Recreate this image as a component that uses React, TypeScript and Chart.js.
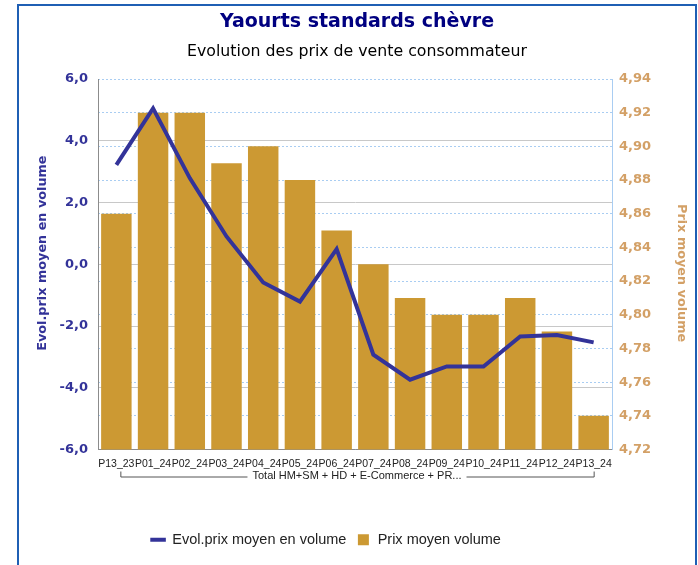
import { useEffect, useRef } from 'react';
import { Chart, registerables } from 'chart.js';

Chart.register(...registerables);

const categories = ['P13_23', 'P01_24', 'P02_24', 'P03_24', 'P04_24', 'P05_24', 'P06_24', 'P07_24', 'P08_24', 'P09_24', 'P10_24', 'P11_24', 'P12_24', 'P13_24'];
const evolPrixMoyen = [3.22, 5.05, 2.79, 0.9, -0.59, -1.21, 0.49, -2.93, -3.74, -3.31, -3.31, -2.34, -2.29, -2.53];
const prixMoyenVolume = [4.86, 4.92, 4.92, 4.89, 4.9, 4.88, 4.85, 4.83, 4.81, 4.8, 4.8, 4.81, 4.79, 4.74];
const groupLabel = 'Total HM+SM + HD + E-Commerce + PR...';

const FONT = '"Liberation Sans", Arial, sans-serif';
const DV = '"DejaVu Sans", Verdana, sans-serif';
const NAVY = '#000080';
const BLUE = '#333399';
const GOLD = '#cc9933';
const TAN = '#d3a066';

const bracketPlugin = {
  id: 'groupBracket',
  afterDraw(chart: any) {
    const xs = chart.scales.x;
    const ctx = chart.ctx;
    const x0 = xs.getPixelForValue(0) + 4;
    const x1 = xs.getPixelForValue(categories.length - 1);
    const y = xs.top + 27;
    ctx.save();
    ctx.font = `11px ${FONT}`;
    const tw = ctx.measureText(groupLabel).width;
    const cx = (x0 + x1) / 2;
    ctx.strokeStyle = '#555555';
    ctx.lineWidth = 1;
    ctx.beginPath();
    ctx.moveTo(x0 + 0.5, y - 5);
    ctx.lineTo(x0 + 0.5, y + 0.5);
    ctx.lineTo(cx - tw / 2 - 5, y + 0.5);
    ctx.moveTo(cx + tw / 2 + 5, y + 0.5);
    ctx.lineTo(x1 + 0.5, y + 0.5);
    ctx.lineTo(x1 + 0.5, y - 5);
    ctx.stroke();
    ctx.fillStyle = '#222222';
    ctx.textAlign = 'center';
    ctx.textBaseline = 'middle';
    ctx.fillText(groupLabel, cx, y - 1);
    ctx.restore();
  },
};

const legendShiftPlugin = {
  id: 'legendShift',
  afterLayout(chart: any) {
    if (chart.legend) {
      chart.legend.left -= 31;
      chart.legend.right -= 31;
    }
  },
};

export default function App() {
  const ref = useRef<HTMLCanvasElement | null>(null);

  useEffect(() => {
    if (!ref.current) return;
    const chart = new Chart(ref.current, {
      type: 'bar',
      data: {
        labels: categories,
        datasets: [
          {
            type: 'line',
            label: 'Evol.prix moyen en volume',
            data: evolPrixMoyen,
            yAxisID: 'y',
            borderColor: BLUE,
            backgroundColor: BLUE,
            borderWidth: 4,
            pointRadius: 0,
            pointStyle: 'line',
            tension: 0,
            order: 0,
          } as any,
          {
            type: 'bar',
            label: 'Prix moyen volume',
            data: prixMoyenVolume,
            yAxisID: 'y1',
            backgroundColor: GOLD,
            borderColor: GOLD,
            borderWidth: 0,
            pointStyle: 'rect',
            barPercentage: 0.83,
            categoryPercentage: 1,
            order: 1,
          } as any,
        ],
      },
      options: {
        animation: false,
        responsive: false,
        layout: { padding: { left: 16, right: 0, top: 0, bottom: 8 } },
        plugins: {
          title: {
            display: true,
            text: 'Yaourts standards chèvre',
            color: NAVY,
            font: { family: DV, size: 19, weight: 'bold', lineHeight: 1.2 },
            padding: { top: 10.6, bottom: 0 },
          },
          subtitle: {
            display: true,
            text: 'Evolution des prix de vente consommateur',
            color: '#000000',
            font: { family: DV, size: 15.75, weight: 'normal', lineHeight: 1.2 },
            padding: { top: 9.15, bottom: 17.55 },
          },
          legend: {
            position: 'bottom',
            labels: {
              usePointStyle: true,
              boxHeight: 11,
              boxWidth: 14,
              padding: 10,
              color: '#222222',
              font: { family: FONT, size: 14.5 },
            },
          },
          tooltip: { enabled: false },
        },
        scales: {
          x: {
            offset: true,
            grid: { display: false, drawTicks: false },
            border: { display: true, color: '#8c8c8c', width: 1 },
            ticks: {
              autoSkip: false,
              maxRotation: 0,
              minRotation: 0,
              padding: 8,
              color: '#222222',
              font: { family: FONT, size: 10.5 },
            },
            afterFit(scale: any) {
              scale.height = 73;
            },
          },
          y: {
            position: 'left',
            min: -6,
            max: 6,
            grid: {
              drawTicks: false,
              color: (c: any) => (c.tick && c.tick.value === 6 ? 'rgba(0,0,0,0)' : '#c8c8c8'),
              lineWidth: 1,
            },
            border: { display: true, color: '#8c8c8c', width: 1 },
            ticks: {
              stepSize: 2,
              padding: 10,
              color: BLUE,
              font: { family: DV, size: 13, weight: 'bold' },
              callback: (v: any) => Number(v).toFixed(1).replace('.', ','),
            },
            title: {
              display: true,
              text: '     Evol.prix moyen en volume',
              color: BLUE,
              font: { family: DV, size: 12.8, weight: 'bold', lineHeight: 1.2 },
              padding: { top: 19, bottom: 0 },
            },
            afterFit(scale: any) {
              scale.width = 82;
            },
          },
          y1: {
            position: 'right',
            min: 4.72,
            max: 4.94,
            grid: { drawTicks: false, color: '#a9cdf2', lineWidth: 1 },
            border: { display: true, color: '#a9cdf2', width: 1, dash: [2, 2] },
            ticks: {
              stepSize: 0.02,
              padding: 7,
              color: TAN,
              font: { family: DV, size: 13, weight: 'bold' },
              callback: (v: any) => Number(v).toFixed(2).replace('.', ','),
            },
            title: {
              display: true,
              text: '    Prix moyen volume',
              color: TAN,
              font: { family: DV, size: 12.8, weight: 'bold', lineHeight: 1.2 },
              padding: { top: 9, bottom: 0 },
            },
            afterFit(scale: any) {
              scale.width = 86;
            },
          },
        },
      } as any,
      plugins: [bracketPlugin, legendShiftPlugin],
    });
    return () => chart.destroy();
  }, []);

  return (
    <div style={{ position: 'absolute', left: 0, top: 0, width: 698, height: 565, overflow: 'hidden', background: '#ffffff' }}>
      <div
        style={{
          position: 'absolute',
          left: 17,
          top: 4,
          width: 680,
          height: 640,
          boxSizing: 'border-box',
          border: '2px solid #1f5fb4',
        }}
      />
      <canvas ref={ref} width={698} height={565} style={{ position: 'absolute', left: 0, top: 0, width: 698, height: 565 }} />
    </div>
  );
}
